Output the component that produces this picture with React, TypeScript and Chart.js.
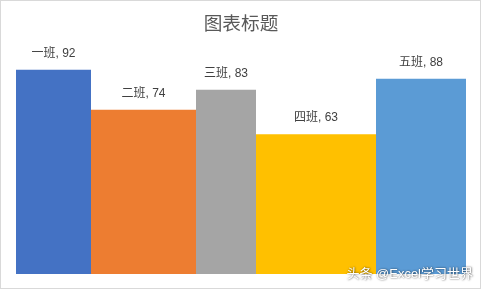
import React, { useEffect, useRef } from "react";
import { Chart, registerables } from "chart.js";

Chart.register(...registerables);

const categories = ["一班", "二班", "三班", "四班", "五班"];
const values = [92, 74, 83, 63, 88];
const widths = [5, 7, 4, 8, 6];
const colors = ["#4472C4", "#ED7D31", "#A5A5A5", "#FFC000", "#5B9BD5"];
const titleText = "图表标题";
const watermark = "头条 @Excel学习世界";

const FONT = "'Noto Sans CJK SC', 'Microsoft YaHei', sans-serif";
const LABEL_FONT = "'Liberation Sans', 'Noto Sans CJK SC', sans-serif";

export default function App() {
  const ref = useRef<HTMLCanvasElement | null>(null);
  useEffect(() => {
    document.body.style.margin = "0";
    const starts: number[] = [];
    let acc = 0;
    widths.forEach((w) => {
      starts.push(acc);
      acc += w;
    });
    const total = acc;
    const datasets = categories.map((c, i) => ({
      label: c,
      data: [
        { x: starts[i], y: values[i] },
        { x: starts[i] + widths[i], y: values[i] },
      ],
      fill: "origin",
      backgroundColor: colors[i],
      borderColor: colors[i],
      borderWidth: 0,
      pointRadius: 0,
      tension: 0,
    }));
    const labelPlugin = {
      id: "labels",
      afterDatasetsDraw(chart: any) {
        const ctx = chart.ctx;
        const xs = chart.scales.x;
        const ys = chart.scales.y;
        ctx.save();
        ctx.font = `12px ${LABEL_FONT}`;
        ctx.fillStyle = "#404040";
        ctx.textAlign = "center";
        ctx.textBaseline = "middle";
        categories.forEach((c, i) => {
          const x = xs.getPixelForValue(starts[i] + widths[i] / 2);
          const y = ys.getPixelForValue(values[i]) - 16;
          ctx.fillText(`${c}, ${values[i]}`, x, y);
        });
        ctx.restore();
      },
      afterDraw(chart: any) {
        const ctx = chart.ctx;
        ctx.save();
        ctx.font = `13px ${LABEL_FONT}`;
        ctx.textAlign = "right";
        ctx.textBaseline = "middle";
        ctx.shadowColor = "rgba(0,0,0,0.75)";
        ctx.shadowBlur = 2;
        ctx.shadowOffsetX = 0.5;
        ctx.shadowOffsetY = 0.5;
        ctx.fillStyle = "#ffffff";
        ctx.fillText(watermark, 473, 274);
        ctx.restore();
      },
    };
    const chart = new Chart(ref.current as HTMLCanvasElement, {
      type: "line",
      data: { datasets: datasets as any },
      options: {
        animation: false,
        responsive: false,
        events: [],
        layout: { padding: { left: 16, right: 15, bottom: 15, top: 0 } },
        scales: {
          x: { type: "linear", min: 0, max: total, display: false },
          y: { min: 0, max: 100, display: false },
        },
        plugins: {
          legend: { display: false },
          tooltip: { enabled: false },
          title: {
            display: true,
            text: titleText,
            color: "#595959",
            font: { family: FONT, size: 18.67, weight: "normal" as any },
            padding: { top: 11.3, bottom: 18.3 },
          },
        },
      },
      plugins: [labelPlugin],
    });
    return () => chart.destroy();
  }, []);
  return (
    <div style={{ position: "relative", width: 481, height: 289, background: "#fff" }}>
      <canvas ref={ref} width={481} height={289} style={{ display: "block" }} />
      <div
        style={{
          position: "absolute",
          left: 0,
          top: 0,
          width: 481,
          height: 289,
          boxSizing: "border-box",
          border: "1px solid #d9d9d9",
          pointerEvents: "none",
        }}
      />
    </div>
  );
}
